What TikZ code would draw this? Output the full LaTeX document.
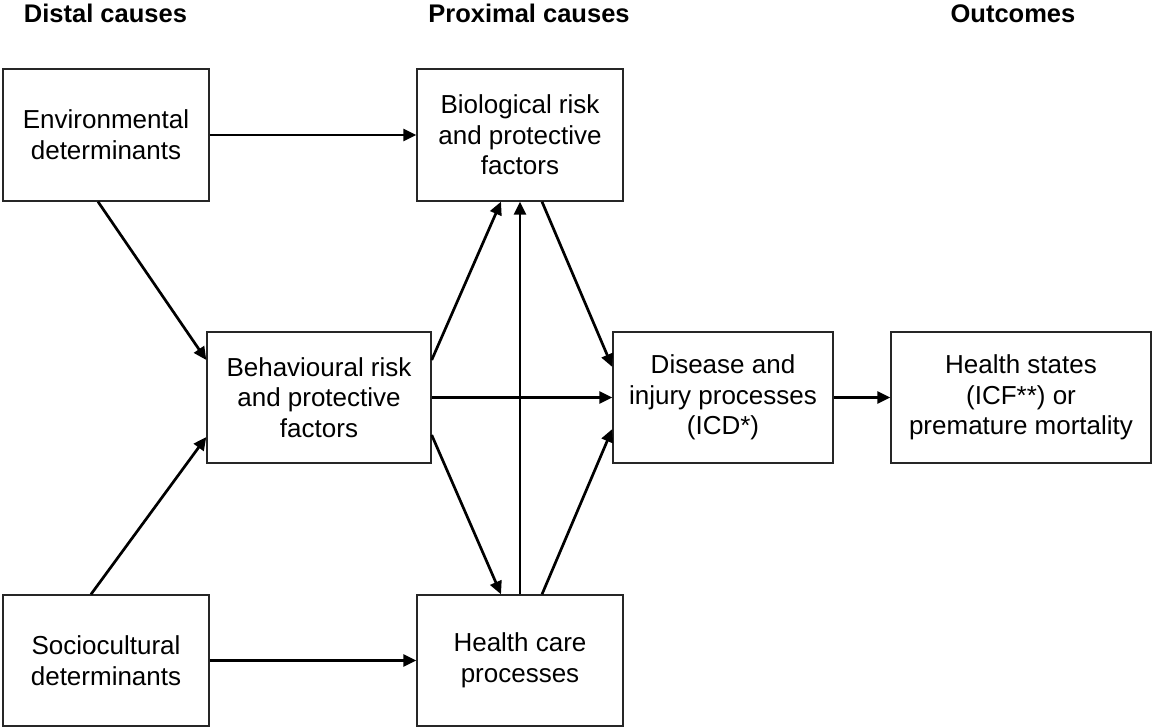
\documentclass[tikz,border=0pt]{standalone}
\usepackage{fontspec}
\setmainfont{Liberation Sans}
\usetikzlibrary{arrows.meta,calc}
\begin{document}
\begin{tikzpicture}[x=1pt,y=-1pt,
  box/.style={draw=black!85,line width=1.4pt,fill=white,align=center,inner sep=0pt,
    font=\fontsize{26}{30.6}\selectfont},
  head/.style={anchor=base,font=\fontsize{25.5}{30}\selectfont\bfseries},
  arr/.style={line width=2.7pt,-{Triangle[length=13pt,width=12pt]}},
  ln/.style={line width=2.7pt}]
\useasboundingbox (0,0) rectangle (1152,727);
% headers
\node[head] (h1) at (105.5,23) {Distal causes};
\node[head] (h2) at (529,23) {Proximal causes};
\node[head] (h3) at (1013,23) {Outcomes};
% boxes
\node[box,minimum width=206pt,minimum height=132pt] (env) at (106,135) {Environmental\\determinants};
\node[box,minimum width=206pt,minimum height=132pt] (bio) at (520,135) {Biological risk\\and protective\\factors};
\node[box,minimum width=224pt,minimum height=131pt] (beh) at (319,397.5) {Behavioural risk\\and protective\\factors};
\node[box,minimum width=220pt,minimum height=131pt] (dis) at (723,397.5) {Disease and\\injury processes\\(ICD*)};
\node[box,minimum width=260pt,minimum height=131pt] (hs) at (1021,397.5) {Health states\\(ICF**) or\\premature mortality};
\node[box,minimum width=206pt,minimum height=131pt] (soc) at (106,660.5) {Sociocultural\\determinants};
\node[box,minimum width=206pt,minimum height=131pt] (hc) at (520,660.5) {Health care\\processes};
% connectors
\draw[arr] (env.east) -- (bio.west);
\draw[arr] ([xshift=-8pt]env.south) -- ([yshift=37.5pt]beh.west);
\draw[arr] ([xshift=-15pt]soc.north) -- ([yshift=-39.5pt]beh.west);
\draw[arr] (soc.east) -- (hc.west);
\draw[arr] ([yshift=37.5pt]beh.east) -- ([xshift=-19pt]bio.south);
\draw[arr] (beh.east) -- (dis.west);
\draw[arr] ([yshift=-37.5pt]beh.east) -- ([xshift=-19pt]hc.north);
\draw[arr] (hc.north) -- (bio.south);
\draw[arr] ([xshift=22pt]bio.south) -- ([yshift=30.5pt]dis.west);
\draw[arr] ([xshift=22pt]hc.north) -- ([yshift=-31.5pt]dis.west);
\draw[arr] (dis.east) -- (hs.west);
\end{tikzpicture}
\end{document}
